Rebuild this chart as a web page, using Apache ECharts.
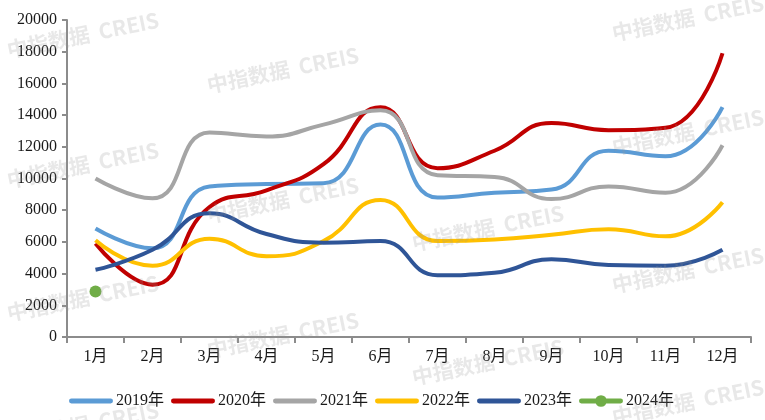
<!DOCTYPE html>
<html>
<head>
<meta charset="utf-8">
<script src="https://cdn.jsdelivr.net/npm/echarts@6/dist/echarts.min.js"></script>
<style>html,body{margin:0;padding:0;background:#fff}#c{width:765px;height:420px}</style>
</head>
<body>
<div id="c"></div>
<script>
var categories = ['1月','2月','3月','4月','5月','6月','7月','8月','9月','10月','11月','12月'];
var yTicks = [0,2000,4000,6000,8000,10000,12000,14000,16000,18000,20000];
var s2019 = [6850,5600,9500,9650,9700,13400,8800,9100,9300,11750,11400,14500];
var s2020 = [5900,3300,8200,9250,10900,14500,10650,11750,13500,13050,13200,17900];
var s2021 = [10000,8750,12900,12650,13400,14300,10200,10100,8700,9500,9100,12100];
var s2022 = [6100,4500,6200,5100,6050,8650,6050,6150,6450,6800,6350,8500];
var s2023 = [4240,5500,7800,6500,5950,6050,3900,4050,4900,4550,4500,5500];
var s2024 = [2870];
var names = ['2019年','2020年','2021年','2022年','2023年','2024年'];
var colors = ['#5B9BD5','#C00000','#A5A5A5','#FFC000','#2F5597','#70AD47'];

var serif = 'Liberation Serif, "Noto Sans CJK SC", serif';
var chart = echarts.init(document.getElementById('c'));
var data = [s2019,s2020,s2021,s2022,s2023,s2024];
var series = data.map(function(d,i){
  var isPt = (i === 5);
  return {
    name: names[i], type: 'line', data: d, smooth: true,
    symbol: isPt ? 'circle' : 'none', symbolSize: 12, showSymbol: isPt,
    lineStyle: {width: 4, color: colors[i]},
    itemStyle: {color: colors[i]},
    z: 2, animation: false
  };
});

var barIcon = 'path://M0,0h0.01v0.01h-0.01z M2,3.5h40a2.5,2.5 0 0 1 0,5h-40a2.5,2.5 0 0 1 0,-5z M43.99,11.99h0.01v0.01h-0.01z';
var dotIcon = 'path://M0,0h0.01v0.01h-0.01z M2,3.5h40a2.5,2.5 0 0 1 0,5h-40a2.5,2.5 0 0 1 0,-5z M28,6a6,6 0 1 1 -12,0a6,6 0 1 1 12,0z M43.99,11.99h0.01v0.01h-0.01z';
var legendData = names.map(function(n,i){
  return {name: n, icon: i === 5 ? dotIcon : barIcon, itemStyle: {color: colors[i], borderWidth: 0}};
});

var wm = [[5,15],[205,50],[610,-2],[5,145],[610,112],[205,180],[410,208],[610,250],[5,278],[205,315],[410,342],[610,382],[5,405]];
var graphics = wm.map(function(p){
  return {type:'text', x:p[0], y:p[1]+25, rotation:0.2, z:100, silent:true,
    style:{text:'中指数据  CREIS', fill:'rgba(150,150,150,0.22)', font:'bold 21px "Noto Sans CJK SC", sans-serif'}};
});

chart.setOption({
  animation: false,
  backgroundColor: '#fff',
  grid: {left: 67, right: 14, top: 20, bottom: 83, containLabel: false},
  xAxis: {
    type: 'category', data: categories, boundaryGap: true,
    axisLine: {show: true, lineStyle: {color: '#8c8c8c', width: 2}},
    axisTick: {show: true, length: 6, lineStyle: {color: '#8c8c8c', width: 2}},
    axisLabel: {color: '#1a1a1a', fontSize: 16, fontFamily: serif, margin: 12}
  },
  yAxis: {
    type: 'value', min: yTicks[0], max: yTicks[yTicks.length-1], interval: 2000,
    axisLine: {show: true, lineStyle: {color: '#8c8c8c', width: 2}},
    axisTick: {show: true, length: 5, lineStyle: {color: '#8c8c8c', width: 2}},
    splitLine: {show: false},
    axisLabel: {color: '#1a1a1a', fontSize: 16, fontFamily: serif, margin: 10,
      formatter: function(v){ return String(v); }}
  },
  legend: {
    data: legendData, bottom: 6, left: 64, itemWidth: 44, itemHeight: 12, itemGap: 7,
    textStyle: {color: '#1a1a1a', fontSize: 16, fontFamily: serif, padding: [0,0,0,-2]}
  },
  graphic: graphics,
  series: series
});
</script>
</body>
</html>
